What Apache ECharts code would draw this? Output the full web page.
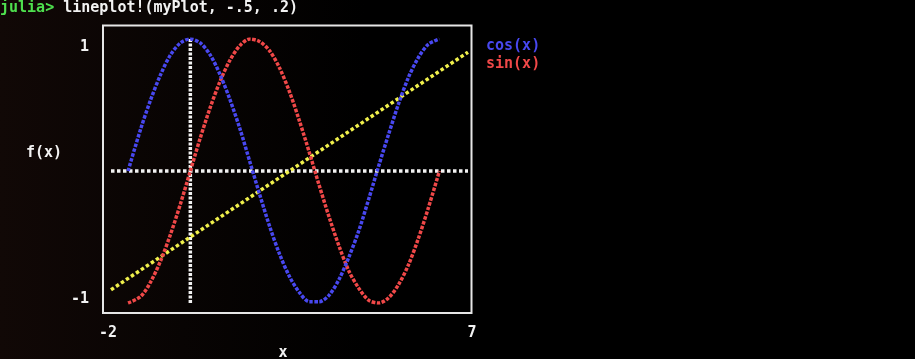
<!DOCTYPE html>
<html>
<head>
<meta charset="utf-8">
<script src="https://cdn.jsdelivr.net/npm/echarts@6/dist/echarts.min.js"></script>
<style>
html,body{margin:0;padding:0;background:#000;}
#chart{width:915px;height:359px;}
</style>
</head>
<body>
<div id="chart"></div>
<script>
// ---- data ----
const PROMPT = 'julia> ';
const COMMAND = 'lineplot!(myPlot, -.5, .2)';
const TRIG_X = [-1.57, -1.25, -1.0, -0.75, -0.5, -0.25, 0, 0.25, 0.5, 0.75, 1.0, 1.25, 1.5, 1.75, 2.0, 2.25,
                2.5, 2.75, 3.0, 3.25, 3.5, 3.75, 4.0, 4.25, 4.5, 4.75, 5.0, 5.25, 5.5, 5.75, 6.0, 6.28];
const COS_Y = [0.00, 0.32, 0.54, 0.73, 0.88, 0.97, 1.00, 0.97, 0.88, 0.73, 0.54, 0.32, 0.07, -0.18, -0.42, -0.63,
               -0.80, -0.92, -0.99, -0.99, -0.94, -0.82, -0.65, -0.45, -0.21, 0.04, 0.28, 0.51, 0.71, 0.86, 0.96, 1.00];
const SIN_Y = [-1.00, -0.95, -0.84, -0.68, -0.48, -0.25, 0.00, 0.25, 0.48, 0.68, 0.84, 0.95, 1.00, 0.98, 0.91, 0.78,
               0.60, 0.38, 0.14, -0.11, -0.35, -0.57, -0.76, -0.89, -0.98, -1.00, -0.96, -0.86, -0.71, -0.51, -0.28, 0.00];
const LINE_X = [-2, 7];
const LINE_Y = [-0.9, 0.9];
const ZERO_H_X = [-2, 7], ZERO_H_Y = [0, 0];
const ZERO_V_X = [0, 0], ZERO_V_Y = [-1, 1];
const X_TICKS = [-2, 7];
const Y_TICKS = [-1, 1];
const SERIES_NAMES = ['cos(x)', 'sin(x)'];
const X_NAME = 'x', Y_NAME = 'f(x)';

// ---- styles ----
const FONT = 'DejaVu Sans Mono';
const BLUE = '#4848f0', RED = '#f04848', YELLOW = '#f0f04c', WHITE = '#f2f2f2', GREEN = '#4ee04e';
const zip = (xs, ys) => xs.map((x, i) => [x, ys[i]]);
const dotted = (color, pattern) => ({ color: color, width: 3.5, type: pattern || [3.5, 1.5], cap: 'butt' });

const chart = echarts.init(document.getElementById('chart'), null, { renderer: 'canvas' });
chart.setOption({
  animation: false,
  backgroundColor: {
    type: 'linear', x: 0, y: 0, x2: 1, y2: 0,
    colorStops: [
      { offset: 0, color: '#110806' },
      { offset: 0.2, color: '#080403' },
      { offset: 0.4, color: '#000000' },
      { offset: 1, color: '#000000' }
    ]
  },
  title: {
    text: '{g|' + PROMPT + '}{w|' + COMMAND + '}',
    left: 0, top: 0, padding: 0,
    textStyle: {
      rich: {
        g: { color: GREEN, fontFamily: FONT, fontWeight: 'bold', fontSize: 15, lineHeight: 16 },
        w: { color: WHITE, fontFamily: FONT, fontWeight: 'bold', fontSize: 15, lineHeight: 16 }
      }
    }
  },
  legend: {
    orient: 'vertical', left: 481, top: 37, padding: 0,
    icon: 'none', itemWidth: 0, itemHeight: 18, itemGap: 0,
    selectedMode: false,
    textStyle: { fontFamily: FONT, fontWeight: 'bold', fontSize: 15, lineHeight: 18 },
    data: [
      { name: SERIES_NAMES[0], textStyle: { color: BLUE } },
      { name: SERIES_NAMES[1], textStyle: { color: RED } }
    ]
  },
  grid: { left: 111, right: 447, top: 39, bottom: 56, outerBoundsMode: 'none', containLabel: false },
  xAxis: {
    type: 'value', min: -2, max: 7,
    name: X_NAME, nameLocation: 'middle', nameGap: 41,
    nameTextStyle: { color: WHITE, fontFamily: FONT, fontWeight: 'bold', fontSize: 15, padding: [0, 13, 0, 0] },
    axisLine: { show: false }, axisTick: { show: false }, splitLine: { show: false },
    axisLabel: {
      customValues: X_TICKS, margin: 23, color: WHITE,
      fontFamily: FONT, fontWeight: 'bold', fontSize: 15,
      formatter: v => v === X_TICKS[0] ? '{l|' + v + '}' : '{r|' + v + '}',
      rich: {
        l: { color: WHITE, fontFamily: FONT, fontWeight: 'bold', fontSize: 15, padding: [0, 6, 0, 0] },
        r: { color: WHITE, fontFamily: FONT, fontWeight: 'bold', fontSize: 15, padding: [0, 0, 0, 8] }
      }
    }
  },
  yAxis: {
    type: 'value', min: -1, max: 1,
    name: Y_NAME + '\n \n ', nameLocation: 'middle', nameGap: 49, nameRotate: 0,
    nameTextStyle: { color: WHITE, fontFamily: FONT, fontWeight: 'bold', fontSize: 15, lineHeight: 18, align: 'right' },
    axisLine: { show: false }, axisTick: { show: false }, splitLine: { show: false },
    axisLabel: {
      customValues: Y_TICKS, margin: 22, color: WHITE,
      fontFamily: FONT, fontWeight: 'bold', fontSize: 15,
      formatter: v => v === Y_TICKS[1] ? '{t|' + v + '}' : '{b|' + v + '}',
      rich: {
        t: { color: WHITE, fontFamily: FONT, fontWeight: 'bold', fontSize: 15, padding: [16, 0, 0, 0] },
        b: { color: WHITE, fontFamily: FONT, fontWeight: 'bold', fontSize: 15, padding: [0, 0, 7, 0] }
      }
    }
  },
  graphic: [{
    type: 'rect', silent: true, z: 1,
    shape: { x: 103, y: 25.5, width: 368.5, height: 287.5 },
    style: { fill: null, stroke: '#e6e6e6', lineWidth: 2 }
  }],
  series: [
    { type: 'line', data: zip(ZERO_H_X, ZERO_H_Y), symbol: 'none', lineStyle: dotted(WHITE, [3.5, 2.5]), z: 2, silent: true },
    { type: 'line', data: zip(ZERO_V_X, ZERO_V_Y), symbol: 'none', lineStyle: dotted(WHITE, [3, 1.5]), z: 2, silent: true },
    { type: 'line', data: zip(LINE_X, LINE_Y), symbol: 'none', lineStyle: dotted(YELLOW, [3.5, 2.5]), z: 3, silent: true },
    { name: SERIES_NAMES[1], type: 'line', data: zip(TRIG_X, SIN_Y), symbol: 'none', smooth: 0.3,
      lineStyle: dotted(RED), itemStyle: { color: RED }, z: 4, silent: true },
    { name: SERIES_NAMES[0], type: 'line', data: zip(TRIG_X, COS_Y), symbol: 'none', smooth: 0.3,
      lineStyle: dotted(BLUE), itemStyle: { color: BLUE }, z: 5, silent: true }
  ]
});
</script>
</body>
</html>
